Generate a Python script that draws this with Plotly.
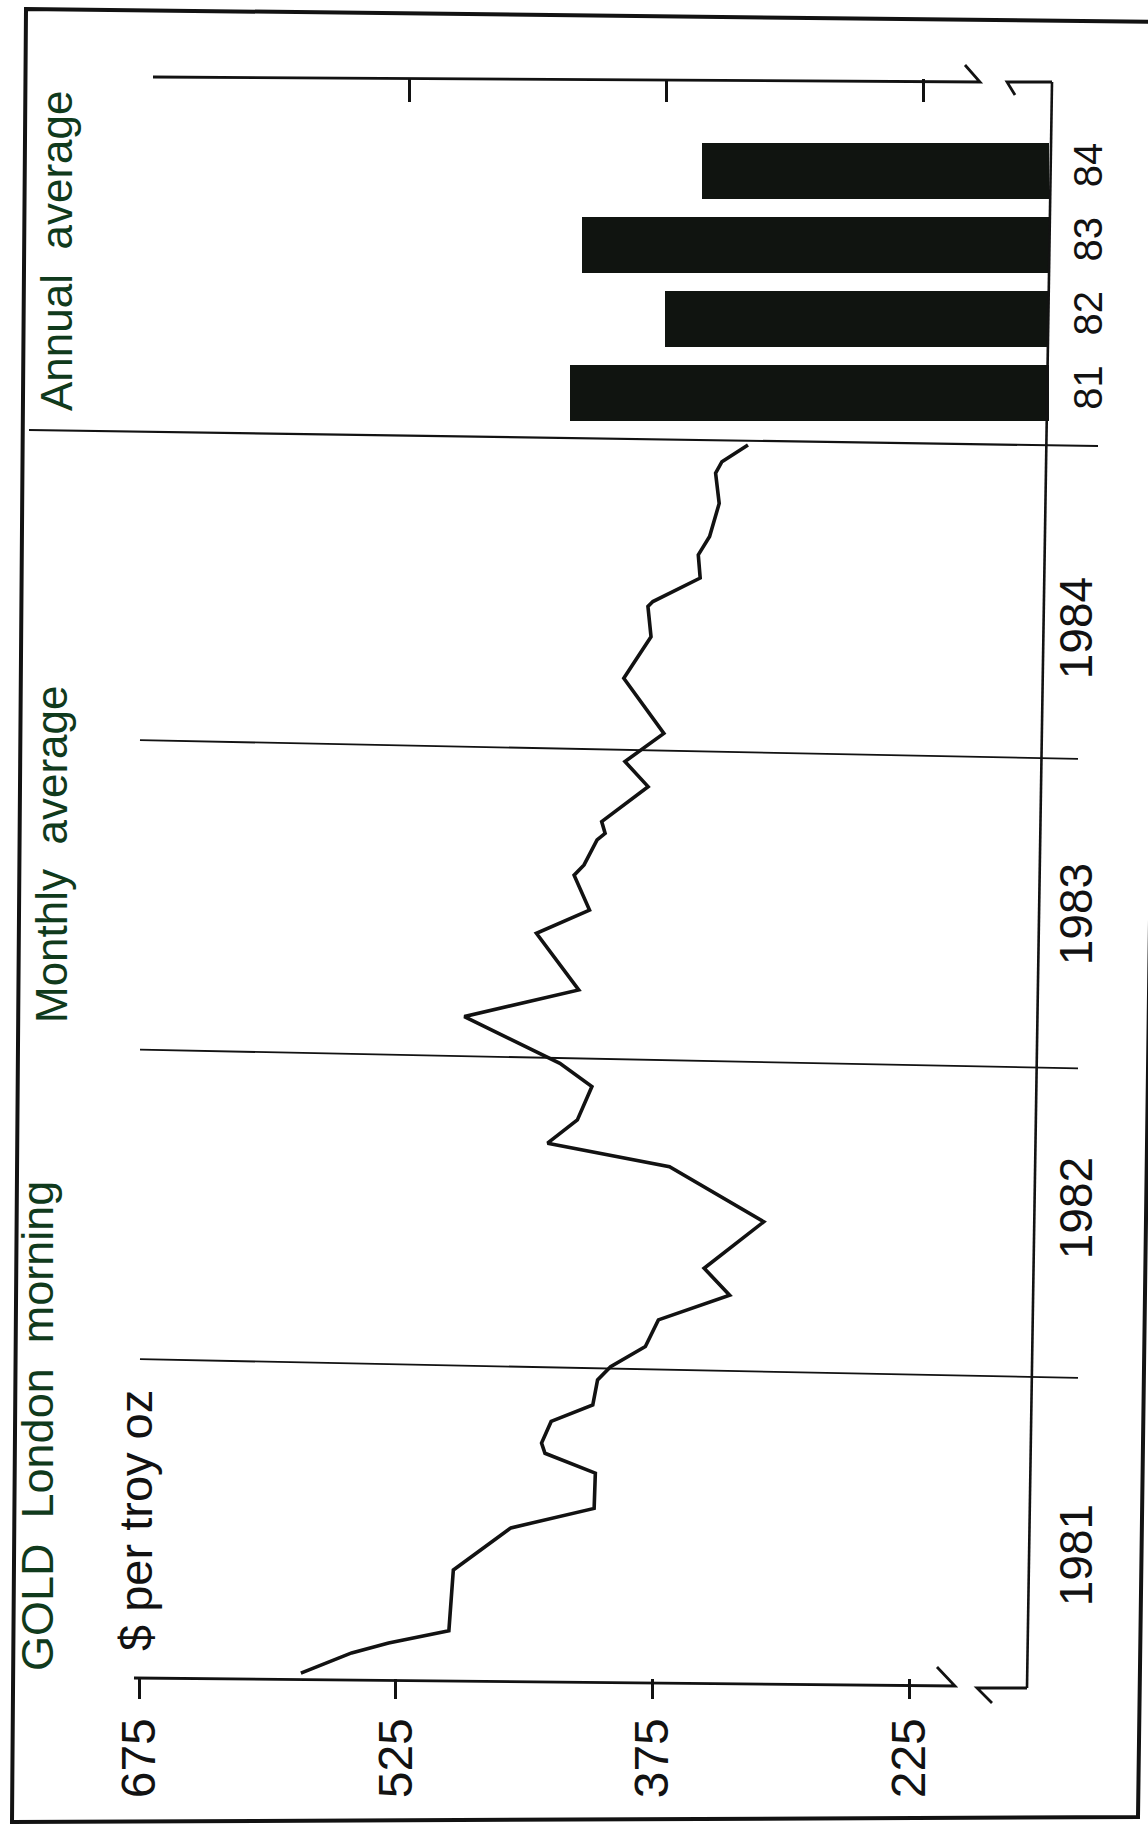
import plotly.graph_objects as go

W, H = 1148, 1834


def px(x):
    return x / W


def py(y):
    return 1 - y / H


# ---------------- data ----------------
month_dates = [1981.016, 1981.081, 1981.113, 1981.153, 1981.349, 1981.485, 1981.548,
               1981.662, 1981.726, 1981.759, 1981.829, 1981.882, 1981.963, 1982.006,
               1982.071, 1982.157, 1982.237, 1982.324, 1982.474, 1982.652, 1982.728,
               1982.803, 1982.911, 1982.986, 1983.137, 1983.223, 1983.406, 1983.481,
               1983.594, 1983.627, 1983.708, 1983.729, 1983.767, 1983.880, 1983.961,
               1984.052, 1984.230, 1984.364, 1984.462, 1984.478, 1984.554, 1984.629,
               1984.688, 1984.795, 1984.893, 1984.930, 1984.984]
month_prices = [580.5, 550.9, 529.3, 494.1, 491.5, 457.9, 409.3,
                408.6, 438.0, 440.0, 434.4, 410.1, 407.3, 399.7,
                379.4, 371.8, 330.2, 345.1, 310.3, 365.3, 436.5,
                419.1, 410.6, 429.3, 485.1, 418.3, 443.0, 412.0,
                421.0, 415.2, 407.6, 402.9, 404.9, 377.8, 391.3,
                368.6, 392.0, 376.1, 377.9, 375.0, 347.4, 348.5,
                341.9, 336.3, 338.4, 334.7, 319.5]

bar_years = [1981, 1982, 1983, 1984]
bar_labels = ["81", "82", "83", "84"]
bar_values = [431.6, 375.9, 424.5, 354.6]

value_ticks = [675, 525, 375, 225]
value_tick_labels = ["675", "525", "375", "225"]

year_label_pos = [1981.375, 1982.496, 1983.446, 1984.370]
year_labels = ["1981", "1982", "1983", "1984"]
year_dividers = [1982, 1983, 1984]

# ---------------- styling ----------------
FONT = "Liberation Sans, Arial, Helvetica, sans-serif"
INK = "#121212"
GREEN = "#103a1c"
SLOPE = 1.713          # pixels per dollar
BX0, BX1 = 139, 1037   # lower panel: 675 position, baseline
TX0, TX1 = 153, 1049   # upper panel: 675 position, baseline

fig = go.Figure()

fig.add_trace(go.Scatter(
    x=month_prices, y=month_dates, mode="lines",
    line=dict(color=INK, width=3.6), xaxis="x", yaxis="y",
    hoverinfo="skip", showlegend=False))

fig.add_trace(go.Bar(
    x=bar_values, y=bar_years, orientation="h", width=0.755,
    marker=dict(color="#101410", line=dict(width=0)),
    xaxis="x2", yaxis="y2", hoverinfo="skip", showlegend=False))

axis_common = dict(showgrid=False, zeroline=False, showline=False,
                   fixedrange=True, automargin=False)

fig.update_layout(
    template="none",
    width=W, height=H, autosize=False,
    margin=dict(l=0, r=0, t=0, b=0, pad=0, autoexpand=False),
    paper_bgcolor="white", plot_bgcolor="rgba(0,0,0,0)",
    font=dict(family=FONT, color=INK),
    bargap=0, showlegend=False,
    xaxis=dict(domain=[px(BX0), px(BX1)], range=[675, 675 - (BX1 - BX0) / SLOPE],
               anchor="y", tickmode="array", tickvals=value_ticks, ticktext=value_tick_labels,
               ticks="outside", ticklen=20, tickwidth=2.5, tickcolor=INK,
               tickangle=-90, tickfont=dict(size=48, color=INK), **axis_common),
    yaxis=dict(domain=[py(1678), py(440)], range=[1981, 1985], anchor="x", side="right",
               tickmode="array", tickvals=year_label_pos, ticktext=year_labels,
               ticks="", tickangle=-90, tickfont=dict(size=46, color=INK),
               ticklabelstandoff=8, **axis_common),
    xaxis2=dict(domain=[px(TX0), px(TX1)], range=[675, 675 - (TX1 - TX0) / SLOPE],
                anchor="y2", side="top", tickmode="array", tickvals=value_ticks,
                ticks="inside", ticklen=23, tickwidth=2.5, tickcolor=INK,
                showticklabels=False, **axis_common),
    yaxis2=dict(domain=[py(440), py(79)], range=[1980.373, 1985.240], anchor="x2",
                side="right", tickmode="array", tickvals=bar_years, ticktext=bar_labels,
                ticks="", tickangle=-90, tickfont=dict(size=40, color=INK),
                ticklabelstandoff=12, **axis_common),
)


def path(points):
    return "M " + " L ".join(f"{px(x):.5f},{py(y):.5f}" for x, y in points)


shapes = []
# outer frame
shapes.append(dict(type="path", xref="paper", yref="paper",
                   path=path([(26, 9), (1162, 22), (1138, 1817), (12, 1822)]) + " Z",
                   line=dict(color=INK, width=4)))
# lower value axis with break mark
shapes.append(dict(type="path", xref="paper", yref="paper",
                   path=path([(134, 1678), (955, 1686), (937, 1667)]),
                   line=dict(color=INK, width=2.8)))
shapes.append(dict(type="path", xref="paper", yref="paper",
                   path=path([(992, 1703), (977, 1688), (1027, 1688)]),
                   line=dict(color=INK, width=2.8)))
# time baseline
shapes.append(dict(type="path", xref="paper", yref="paper",
                   path=path([(1027, 1688), (1052, 82)]),
                   line=dict(color=INK, width=2.6)))
# upper value axis with break mark
shapes.append(dict(type="path", xref="paper", yref="paper",
                   path=path([(153, 77), (980, 82), (965, 65)]),
                   line=dict(color=INK, width=2.8)))
shapes.append(dict(type="path", xref="paper", yref="paper",
                   path=path([(1015, 95), (1007, 82), (1052, 82)]),
                   line=dict(color=INK, width=2.8)))
# divider between monthly and annual panels
shapes.append(dict(type="path", xref="paper", yref="paper",
                   path=path([(29, 430), (1098, 446)]),
                   line=dict(color=INK, width=2.2)))
# year dividers
for yr in year_dividers:
    shapes.append(dict(type="line", xref="paper", yref="y",
                       x0=px(140), x1=px(1078), y0=yr + 0.03, y1=yr - 0.03,
                       line=dict(color=INK, width=1.8)))
fig.update_layout(shapes=shapes)

annotations = [
    dict(text="GOLD  London  morning", x=px(37), y=py(1426), color=GREEN, size=45),
    dict(text="$ per troy oz", x=px(135), y=py(1521), color=INK, size=47),
    dict(text="Monthly  average", x=px(51), y=py(854), color=GREEN, size=44),
    dict(text="Annual  average", x=px(56), y=py(251), color=GREEN, size=44),
]
fig.update_layout(annotations=[
    dict(text=a["text"], x=a["x"], y=a["y"], xref="paper", yref="paper",
         xanchor="center", yanchor="middle", textangle=-90, showarrow=False,
         font=dict(family=FONT, size=a["size"], color=a["color"]))
    for a in annotations])

fig.write_html("out.html", config={"displayModeBar": False},
               post_script="document.body.style.margin='0';")
